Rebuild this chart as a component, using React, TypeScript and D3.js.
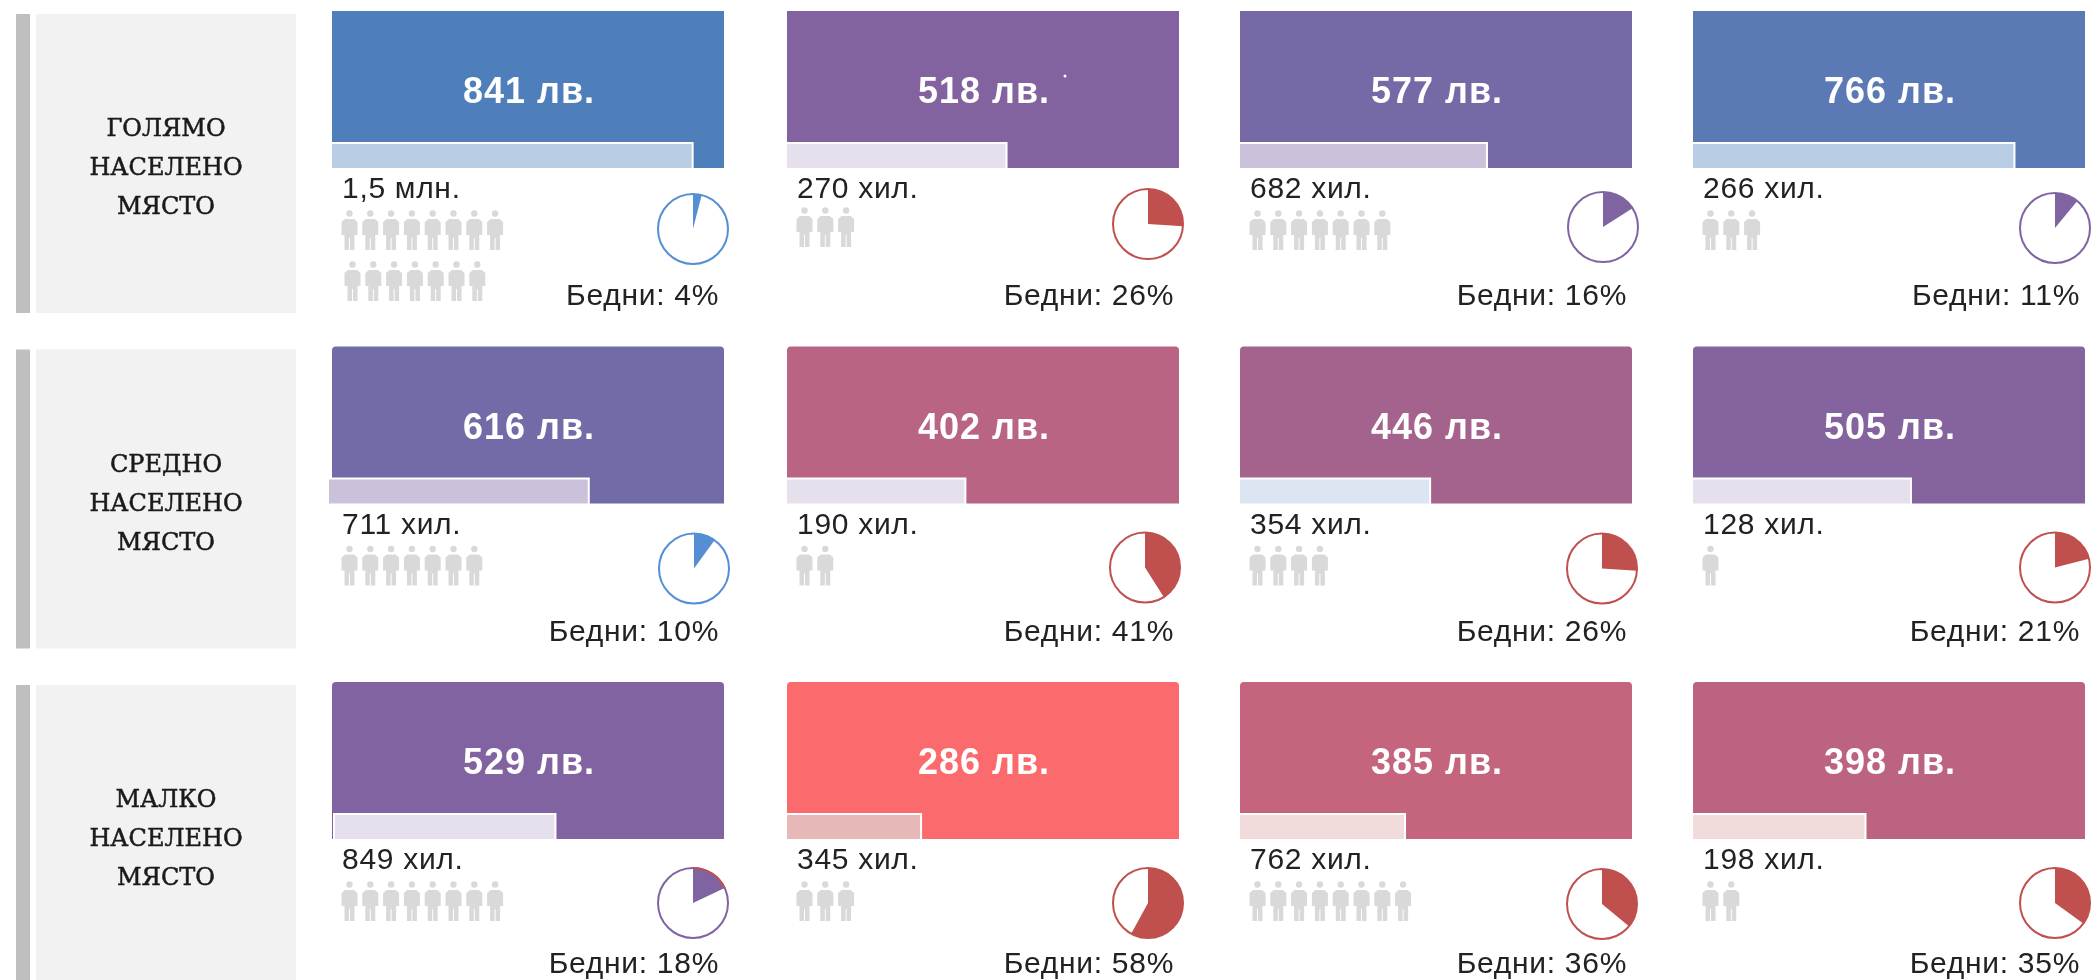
import React from "react";
import * as d3 from "d3";

const rowLabels = ["ГОЛЯМО", "СРЕДНО", "МАЛКО"];
const income = [
  [841, 518, 577, 766],
  [616, 402, 446, 505],
  [529, 286, 385, 398],
];
const population = [
  ["1,5 млн.", "270 хил.", "682 хил.", "266 хил."],
  ["711 хил.", "190 хил.", "354 хил.", "128 хил."],
  ["849 хил.", "345 хил.", "762 хил.", "198 хил."],
];
const figures = [
  [15, 3, 7, 3],
  [7, 2, 4, 1],
  [8, 3, 8, 2],
];
const poor = [
  [4, 26, 16, 11],
  [10, 41, 26, 21],
  [18, 58, 36, 35],
];
// share of the card width
const barShare = [
  [0.92, 0.56, 0.63, 0.82],
  [0.655, 0.455, 0.485, 0.556],
  [0.57, 0.342, 0.421, 0.44],
];
const cardColors = [
  ["#4f7fba", "#83639f", "#7768a6", "#5b79b5"],
  ["#716ba8", "#b96484", "#a4638c", "#84639e"],
  ["#8063a0", "#fb6b6e", "#c4647d", "#bc6381"],
];
const barColors = [
  ["#b9cde5", "#e6e0ec", "#ccc1da", "#b9cde5"],
  ["#ccc1da", "#e6e0ec", "#dce6f2", "#e6e0ec"],
  ["#e6e0ec", "#e6b9b8", "#f2dcdb", "#f2dcdb"],
];
const pieColors = [
  ["#558ed5", "#c0504d", "#8064a2", "#8064a2"],
  ["#558ed5", "#c0504d", "#c0504d", "#c0504d"],
  ["#8064a2", "#c0504d", "#c0504d", "#c0504d"],
];

const cardX = d3.scaleOrdinal<number, number>().domain([0, 1, 2, 3]).range([332, 787, 1240, 1693]);
const rowY = d3.scaleLinear().domain([0, 2]).range([11, 682]);
const cardW = 392;
const cardH = 157;
const barH = 25;
const shareX = d3.scaleLinear().domain([0, 1]).range([0, cardW]);
const figPerRow = 8;
const figStep = d3.scaleLinear().domain([0, 1]).range([0, 20.8]);

// the original was laid out by hand, so some pieces sit a few px off
const pieNudge: Record<string, [number, number]> = {
  "0-0": [0, -3],
  "0-1": [0, -8],
  "0-2": [2, -5],
  "0-3": [1, -4],
  "1-0": [1, 1],
  "1-1": [-3, 0],
  "1-2": [1, 1],
  "1-3": [1, 0],
  "2-2": [1, 1],
  "2-3": [1, 0],
};
const barNudge: Record<string, number> = { "1-0": -3, "2-0": 3 };
const figNudge: Record<string, number> = { "0-1": -3 };

const sans = "'Liberation Sans', sans-serif";
const slab = "'DejaVu Serif', serif";

function figurePath() {
  const p = d3.path();
  p.arc(7.5, 3.5, 3.2, 0, 2 * Math.PI);
  p.moveTo(3, 9);
  p.lineTo(12, 9);
  p.lineTo(15.5, 12);
  p.lineTo(15.5, 25);
  p.lineTo(12.5, 25);
  p.lineTo(12.5, 40);
  p.lineTo(8, 40);
  p.lineTo(8, 28);
  p.lineTo(7, 28);
  p.lineTo(7, 40);
  p.lineTo(2.5, 40);
  p.lineTo(2.5, 25);
  p.lineTo(-0.5, 25);
  p.lineTo(-0.5, 12);
  p.closePath();
  return p.toString();
}

function cardPath(w: number, h: number, r: number) {
  const p = d3.path();
  p.moveTo(0, h);
  p.lineTo(0, r);
  p.quadraticCurveTo(0, 0, r, 0);
  p.lineTo(w - r, 0);
  p.quadraticCurveTo(w, 0, w, r);
  p.lineTo(w, h);
  p.closePath();
  return p.toString();
}

const pie = d3.pie<number>().sort(null);
const arc = d3.arc<d3.PieArcDatum<number>>().innerRadius(0).outerRadius(35);
const rim = d3.arc<d3.PieArcDatum<number>>().innerRadius(34).outerRadius(36);

function Card({ r, c }: { r: number; c: number }) {
  const key = `${r}-${c}`;
  const x = cardX(c);
  const y = rowY(r);
  const figs = d3.range(figures[r][c]);
  const wedge = pie([poor[r][c], 100 - poor[r][c]])[0];
  const [pdx, pdy] = pieNudge[key] ?? [0, 0];
  const barStart = barNudge[key] ?? 0;
  const figY = figNudge[key] ?? 0;
  return (
    <g transform={`translate(${x},${y})`}>
      <path d={cardPath(cardW, cardH, r === 0 ? 0 : 4)} fill={cardColors[r][c]} />
      <rect
        x={barStart - 1}
        y={cardH - barH}
        width={shareX(barShare[r][c]) + 1 - barStart}
        height={barH + 1}
        fill={barColors[r][c]}
        stroke="#fff"
        strokeWidth={2}
      />
      {key === "0-1" && <circle cx={278} cy={65} r={1.5} fill="#fff" />}
      <text
        x={cardW / 2 + 1}
        y={92}
        textAnchor="middle"
        fill="#fff"
        fontFamily={sans}
        fontWeight={700}
        fontSize={36}
        letterSpacing={1}
      >
        {income[r][c]} лв.
      </text>
      <text x={10} y={187} fill="#222" fontFamily={sans} fontSize={30} letterSpacing={0.7}>
        {population[r][c]}
      </text>
      {figs.map((i) => (
        <path
          key={i}
          d={figurePath()}
          fill="#d9d9d9"
          transform={`translate(${(i < figPerRow ? 10 : 13) + figStep(i % figPerRow)},${
            (i < figPerRow ? 199 : 250) + figY
          })`}
        />
      ))}
      <g transform={`translate(${cardW - 31 + pdx},${221 + pdy})`}>
        <circle r={35} fill="#fff" stroke={pieColors[r][c]} strokeWidth={2} />
        <path d={arc(wedge) ?? ""} fill={pieColors[r][c]} />
        {key === "2-0" && <path d={rim(wedge) ?? ""} fill="#c0504d" />}
      </g>
      <text
        x={cardW - 5}
        y={r === 2 ? 291 : 294}
        textAnchor="end"
        fill="#222"
        fontFamily={sans}
        fontSize={30}
        letterSpacing={0.7}
      >
        Бедни: {poor[r][c]}%
      </text>
    </g>
  );
}

export default function App() {
  return (
    <svg
      width={2100}
      height={980}
      style={{ position: "absolute", left: 0, top: 0, background: "#fff", filter: "blur(0.5px)" }}
    >
      {rowLabels.map((label, r) => {
        const top = rowY(r) + 3;
        return (
          <g key={label}>
            <rect x={16} y={top} width={14} height={299} fill="#bfbfbf" />
            <rect x={36} y={top} width={260} height={299} fill="#f2f2f2" />
            {[label, "НАСЕЛЕНО", "МЯСТО"].map((t, i) => (
              <text
                key={t}
                x={166}
                y={top + 122 + i * 39}
                textAnchor="middle"
                fontFamily={slab}
                fontSize={24}
                fill="#1a1a1a"
                stroke="#1a1a1a"
                strokeWidth={0.5}
              >
                {t}
              </text>
            ))}
          </g>
        );
      })}
      {income.map((row, r) => row.map((_, c) => <Card key={`${r}-${c}`} r={r} c={c} />))}
    </svg>
  );
}
